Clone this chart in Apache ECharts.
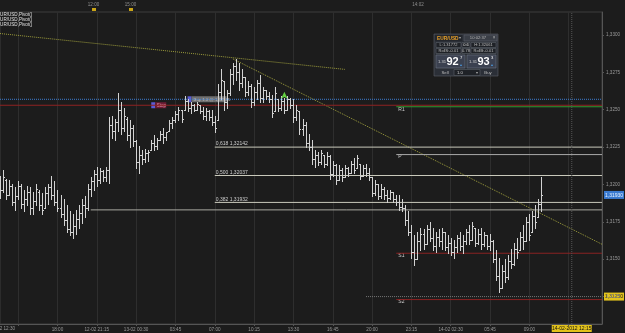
<!DOCTYPE html>
<html>
<head>
<meta charset="utf-8">
<script src="https://cdn.jsdelivr.net/npm/echarts@6/dist/echarts.min.js"></script>
<style>
  html, body { margin: 0; padding: 0; background: #1c1c1c; }
  #c { width: 625px; height: 333px; }
</style>
</head>
<body>
<div id="c"></div>
<script>
// EUR/USD 15 min bars, 12-02 .. 14-02-2012 : [open, close, low, high]
const bars = [
  [1.3200,1.3196,1.3191,1.3206],[1.3196,1.3205,1.3195,1.3210],[1.3203,1.3193,1.3190,1.3204],[1.3193,1.3199,1.3193,1.3203],
  [1.3199,1.3188,1.3186,1.3200],[1.3188,1.3192,1.3183,1.3198],[1.3192,1.3199,1.3190,1.3202],[1.3199,1.3187,1.3184,1.3200],
  [1.3187,1.3190,1.3182,1.3196],[1.3190,1.3195,1.3186,1.3199],[1.3195,1.3184,1.3180,1.3198],[1.3184,1.3189,1.3180,1.3195],
  [1.3189,1.3197,1.3186,1.3200],[1.3195,1.3186,1.3183,1.3196],[1.3186,1.3183,1.3180,1.3194],[1.3184,1.3194,1.3184,1.3198],
  [1.3194,1.3198,1.3187,1.3200],[1.3198,1.3193,1.3190,1.3206],[1.3193,1.3188,1.3186,1.3202],[1.3188,1.3184,1.3182,1.3196],
  [1.3184,1.3180,1.3178,1.3193],[1.3180,1.3176,1.3173,1.3190],[1.3176,1.3170,1.3168,1.3186],[1.3170,1.3168,1.3166,1.3182],
  [1.3168,1.3172,1.3164,1.3180],[1.3172,1.3177,1.3167,1.3183],[1.3177,1.3181,1.3171,1.3186],[1.3181,1.3186,1.3174,1.3190],
  [1.3186,1.3184,1.3178,1.3192],[1.3184,1.3197,1.3183,1.3200],[1.3197,1.3202,1.3192,1.3205],[1.3202,1.3207,1.3196,1.3210],
  [1.3207,1.3203,1.3199,1.3212],[1.3203,1.3209,1.3201,1.3211],[1.3209,1.3205,1.3202,1.3210],[1.3205,1.3210,1.3202,1.3212],
  [1.3210,1.3240,1.3201,1.3245],[1.3240,1.3236,1.3231,1.3246],[1.3236,1.3242,1.3230,1.3244],[1.3242,1.3250,1.3236,1.3261],
  [1.3250,1.3238,1.3234,1.3255],[1.3238,1.3246,1.3236,1.3251],[1.3244,1.3233,1.3230,1.3245],[1.3233,1.3238,1.3225,1.3243],
  [1.3238,1.3229,1.3226,1.3240],[1.3229,1.3215,1.3211,1.3230],[1.3215,1.3220,1.3208,1.3226],[1.3220,1.3217,1.3214,1.3223],
  [1.3217,1.3221,1.3215,1.3224],[1.3221,1.3222,1.3216,1.3223],[1.3223,1.3228,1.3223,1.3230],[1.3228,1.3226,1.3223,1.3233],
  [1.3226,1.3230,1.3224,1.3231],[1.3230,1.3234,1.3230,1.3236],[1.3234,1.3232,1.3228,1.3238],[1.3232,1.3235,1.3230,1.3235],
  [1.3236,1.3241,1.3236,1.3243],[1.3241,1.3243,1.3238,1.3245],[1.3243,1.3247,1.3242,1.3249],[1.3247,1.3250,1.3243,1.3252],
  [1.3250,1.3244,1.3242,1.3250],[1.3250,1.3256,1.3250,1.3259],[1.3256,1.3251,1.3249,1.3257],[1.3251,1.3253,1.3248,1.3255],
  [1.3253,1.3250,1.3249,1.3254],[1.3250,1.3254,1.3250,1.3255],[1.3253,1.3249,1.3248,1.3253],[1.3249,1.3246,1.3244,1.3252],
  [1.3246,1.3249,1.3243,1.3251],[1.3249,1.3245,1.3243,1.3250],[1.3245,1.3242,1.3240,1.3250],[1.3242,1.3238,1.3235,1.3246],
  [1.3243,1.3262,1.3243,1.3267],[1.3262,1.3270,1.3257,1.3277],[1.3269,1.3255,1.3250,1.3269],[1.3255,1.3261,1.3251,1.3263],
  [1.3261,1.3274,1.3260,1.3277],[1.3274,1.3279,1.3267,1.3281],[1.3279,1.3275,1.3270,1.3284],[1.3275,1.3268,1.3263,1.3281],
  [1.3268,1.3272,1.3265,1.3277],[1.3272,1.3262,1.3259,1.3272],[1.3262,1.3266,1.3260,1.3269],[1.3266,1.3255,1.3252,1.3267],
  [1.3255,1.3262,1.3253,1.3265],[1.3262,1.3268,1.3257,1.3270],[1.3268,1.3258,1.3255,1.3273],[1.3258,1.3263,1.3255,1.3265],
  [1.3263,1.3259,1.3257,1.3263],[1.3259,1.3257,1.3255,1.3262],[1.3257,1.3248,1.3245,1.3260],[1.3249,1.3261,1.3249,1.3265],
  [1.3257,1.3251,1.3249,1.3257],[1.3251,1.3256,1.3250,1.3259],[1.3256,1.3250,1.3248,1.3258],[1.3250,1.3257,1.3250,1.3259],
  [1.3257,1.3253,1.3251,1.3258],[1.3253,1.3245,1.3242,1.3257],[1.3245,1.3250,1.3243,1.3253],[1.3249,1.3237,1.3234,1.3249],
  [1.3237,1.3240,1.3233,1.3244],[1.3240,1.3228,1.3225,1.3242],[1.3228,1.3225,1.3223,1.3234],[1.3225,1.3217,1.3214,1.3230],
  [1.3217,1.3220,1.3212,1.3223],[1.3220,1.3215,1.3213,1.3222],[1.3215,1.3221,1.3214,1.3223],[1.3220,1.3214,1.3212,1.3220],
  [1.3214,1.3219,1.3213,1.3222],[1.3219,1.3207,1.3204,1.3220],[1.3207,1.3213,1.3206,1.3216],[1.3213,1.3203,1.3200,1.3214],
  [1.3203,1.3210,1.3203,1.3213],[1.3210,1.3205,1.3202,1.3211],[1.3205,1.3211,1.3205,1.3213],[1.3211,1.3208,1.3206,1.3212],
  [1.3208,1.3214,1.3208,1.3216],[1.3214,1.3210,1.3208,1.3218],[1.3211,1.3218,1.3211,1.3220],[1.3214,1.3206,1.3204,1.3214],
  [1.3206,1.3211,1.3206,1.3213],[1.3211,1.3208,1.3206,1.3214],[1.3208,1.3205,1.3203,1.3211],[1.3205,1.3194,1.3192,1.3205],
  [1.3194,1.3200,1.3193,1.3203],[1.3200,1.3192,1.3190,1.3200],[1.3192,1.3197,1.3191,1.3200],[1.3197,1.3193,1.3190,1.3198],
  [1.3193,1.3191,1.3188,1.3196],[1.3191,1.3195,1.3190,1.3196],[1.3195,1.3190,1.3188,1.3195],[1.3190,1.3188,1.3186,1.3193],
  [1.3188,1.3185,1.3183,1.3193],[1.3185,1.3184,1.3182,1.3190],[1.3184,1.3176,1.3173,1.3186],[1.3176,1.3168,1.3166,1.3182],
  [1.3168,1.3155,1.3151,1.3173],[1.3155,1.3150,1.3146,1.3166],[1.3150,1.3162,1.3150,1.3168],[1.3162,1.3167,1.3156,1.3171],
  [1.3167,1.3160,1.3157,1.3170],[1.3160,1.3170,1.3160,1.3173],[1.3170,1.3164,1.3162,1.3175],[1.3164,1.3159,1.3156,1.3171],
  [1.3159,1.3165,1.3155,1.3168],[1.3165,1.3162,1.3159,1.3170],[1.3162,1.3168,1.3157,1.3171],[1.3168,1.3158,1.3156,1.3168],
  [1.3158,1.3161,1.3154,1.3166],[1.3161,1.3155,1.3153,1.3164],[1.3155,1.3158,1.3151,1.3163],[1.3158,1.3164,1.3155,1.3166],
  [1.3164,1.3159,1.3156,1.3168],[1.3159,1.3162,1.3154,1.3166],[1.3162,1.3168,1.3160,1.3170],[1.3168,1.3163,1.3160,1.3173],
  [1.3163,1.3172,1.3163,1.3175],[1.3171,1.3161,1.3159,1.3171],[1.3161,1.3167,1.3160,1.3170],[1.3167,1.3160,1.3157,1.3171],
  [1.3160,1.3166,1.3159,1.3168],[1.3166,1.3159,1.3157,1.3166],[1.3159,1.3162,1.3156,1.3167],[1.3162,1.3150,1.3148,1.3163],
  [1.3150,1.3139,1.3136,1.3156],[1.3139,1.3131,1.3128,1.3151],[1.3131,1.3142,1.3131,1.3146],[1.3142,1.3138,1.3135,1.3150],
  [1.3138,1.3149,1.3137,1.3153],[1.3149,1.3147,1.3144,1.3157],[1.3147,1.3157,1.3146,1.3161],[1.3157,1.3155,1.3151,1.3164],
  [1.3156,1.3165,1.3156,1.3168],[1.3165,1.3162,1.3157,1.3173],[1.3162,1.3175,1.3162,1.3178],[1.3175,1.3166,1.3163,1.3180],
  [1.3168,1.3179,1.3168,1.3182],[1.3179,1.3175,1.3171,1.3186],[1.3178,1.3187,1.3178,1.3190],[1.3187,1.3193,1.3182,1.3205]
];

// time axis (one slot per 15 min bar, the right part is empty future space)
const xCount = 200;
const xTickLabels = ['18:00', '12-02 21:15', '13-02 00:30', '03:45', '07:00', '10:15', '13:30',
                     '16:45', '20:00', '23:15', '14-02 02:30', '05:45', '09:00'];
const xTickFirst = 19;
const xTickStep = 13;
const xStartLabel = '12-02 12:30';
const nowIndex = 189;
const nowLabel = '14-02-2012 12:15';

// price axis
const yMin = 1.310666;
const yMax = 1.331539;
const yTicks = [1.3125, 1.3150, 1.3175, 1.3200, 1.3225, 1.3250, 1.3275, 1.3300];

// pivot levels (drawn from the R1 label onwards)
const pivotNames = ['R1', 'P', 'S1', 'S2'];
const pivotValues = [1.3252, 1.3220, 1.3154, 1.3123];
const pivotStart = 131;

// fibonacci retracement
const fibLabels = ['0,618 1,32142', '0,500 1,32037', '0,382 1,31932'];
const fibValues = [1.3225, 1.3206, 1.3188];
const fibStart = 71;

// orders and other levels
const buyOrder = 1.3257;
const stopOrder = 1.3253;
const stopIndex = 50;
const buyIndex = 62;
const entryLevel = 1.3183;
const entryStart = 30;
const alertLevel = 1.3125;
const alertStart = 121;
const signalIndex = 94;
const signalPrice = 1.3262;

// trend lines [index, price]
const trendUpper = [[0, 1.3301], [114, 1.3277]];
const trendDown = [[77, 1.3284], [199, 1.3160]];

const FONT = '"Liberation Sans", Arial, sans-serif';
const BAR = '#d2d2d2';
const fmt = (v, d) => v.toFixed(d).replace('.', ',');
const last = xCount - 1;

const xCats = Array.from({ length: xCount }, (_, i) => {
  const k = (i - xTickFirst) / xTickStep;
  return Number.isInteger(k) && k >= 0 && k < xTickLabels.length ? xTickLabels[k] : '';
});
const isGrid = (i) => (i - xTickFirst) % xTickStep === 0;

function renderBar(params, api) {
  const i = api.value(0);
  const x = Math.round(api.coord([i, yMin])[0]) + 0.5;
  const py = (v) => Math.round(api.coord([i, v])[1]) + 0.5;
  const yo = py(api.value(1)), yc = py(api.value(2)), yl = py(api.value(3)), yh = py(api.value(4));
  const st = { stroke: BAR, lineWidth: 1 };
  return {
    type: 'group',
    children: [
      { type: 'line', shape: { x1: x, y1: yh - 0.5, x2: x, y2: yl + 0.5 }, style: st },
      { type: 'line', shape: { x1: x - 1.5, y1: yo, x2: x, y2: yo }, style: st },
      { type: 'line', shape: { x1: x, y1: yc, x2: x + 1.5, y2: yc }, style: st }
    ]
  };
}

// every level is its own two-point line series
const lineSeries = (data, color, type) => ({
  type: 'line', data, symbol: 'none', silent: true, z: 2,
  lineStyle: { color, type: type || 'solid', width: 1 }
});
const hLine = (i0, v, color, type) => lineSeries([[i0, v], [last, v]], color, type);

const pivotColors = ['#2e9a2e', '#aaaaaa', '#8a2222', '#8a2222'];
const series = [
  lineSeries(trendUpper, '#9c9c3c', 'dotted'),
  lineSeries(trendDown, '#9c9c3c', 'dotted'),
  hLine(0, buyOrder, '#3d7fd6', 'dotted'),
  hLine(0, stopOrder, '#8e2222'),
  ...pivotValues.map((v, k) => hLine(pivotStart, v, pivotColors[k])),
  ...fibValues.map((v) => hLine(fibStart, v, '#c9c9bb')),
  hLine(entryStart, entryLevel, '#a8a8a0'),
  hLine(alertStart, alertLevel, '#777777', 'dotted'),
  lineSeries([[nowIndex, yMin], [nowIndex, yMax]], '#555555', 'dotted'),
  {
    type: 'custom',
    renderItem: renderBar,
    encode: { x: 0, y: [1, 2, 3, 4] },
    data: bars.map((b, i) => [i, b[0], b[1], b[2], b[3]]),
    z: 3,
    markPoint: {
      silent: true,
      symbol: 'arrow',
      symbolSize: [5, 7],
      itemStyle: { color: '#62d040' },
      label: { show: false },
      data: [{ coord: [signalIndex, signalPrice] }]
    }
  }
];

const chart = echarts.init(document.getElementById('c'));
chart.setOption({
  animation: false,
  backgroundColor: '#1c1c1c',
  grid: { left: 0, right: 23, top: 12, bottom: 9, show: true, borderColor: '#3d3d3d', borderWidth: 1 },
  xAxis: {
    type: 'category',
    data: xCats,
    boundaryGap: false,
    axisLine: { lineStyle: { color: '#555' } },
    axisTick: { interval: (i) => isGrid(i), length: 2, lineStyle: { color: '#555' } },
    axisLabel: { interval: (i, v) => v !== '', fontSize: 4.6, fontFamily: FONT, color: '#9a9a9a', margin: 3 },
    splitLine: { show: true, interval: (i) => isGrid(i), lineStyle: { color: '#2e2e2e' } }
  },
  yAxis: {
    type: 'value',
    position: 'right',
    min: yMin,
    max: yMax,
    axisLine: { show: true, lineStyle: { color: '#555' } },
    axisTick: { show: true, customValues: yTicks, length: 2, lineStyle: { color: '#555' } },
    axisLabel: { customValues: yTicks, fontSize: 4.6, fontFamily: FONT, color: '#9a9a9a', margin: 4,
                 formatter: (v) => fmt(v, 4) },
    splitLine: { show: false }
  },
  series
});

// overlay: level labels, price tags, order tags, top strip, quote panel
const px = (i, v) => chart.convertToPixel({ gridIndex: 0 }, [i, v]);
const rect = (x, y, w, h, fill, stroke) => ({
  type: 'rect', shape: { x, y, width: w, height: h },
  style: { fill, stroke: stroke || null, lineWidth: stroke ? 0.6 : 0 }
});
const txt = (x, y, text, size, color, align, weight) => ({
  type: 'text', x, y,
  style: { text, fontSize: size, fontFamily: FONT, fill: color, align: align || 'left',
           verticalAlign: 'middle', fontWeight: weight || 'normal' }
});
const g = [];

pivotNames.forEach((n, k) => {
  const p = px(pivotStart, pivotValues[k]);
  g.push(txt(p[0] + 2, p[1] + 2.5, n, 5, '#cfcfcf'));
});
fibLabels.forEach((n, k) => {
  const p = px(fibStart, fibValues[k]);
  g.push(txt(p[0] + 1, p[1] - 3, n, 5, '#cfcfcf'));
});

// right-hand price tags
const lastClose = bars[bars.length - 1][1];
const tag = (v, fill, color) => {
  const y = px(last, v)[1];
  g.push(rect(604, y - 4, 20, 8, fill));
  g.push(txt(614, y + 0.3, fmt(v, 5), 5, color, 'center'));
};
tag(lastClose, '#3a7ad0', '#e8f2ff');
tag(alertLevel, '#e2c21c', '#111');
// current time tag on the time axis
const nx = px(nowIndex, yMin)[0];
g.push(rect(nx - 20, 325, 40, 7, '#e2c21c'));
g.push(txt(nx, 328.7, nowLabel, 5, '#111', 'center'));

// order tags
const s = px(stopIndex, stopOrder);
const b = px(buyIndex, buyOrder);
g.push(rect(s[0], s[1] - 3, 4, 6, '#5b5bd6'));
g.push(rect(s[0] + 4, s[1] - 3, 11, 6, '#6e1c34'));
g.push(txt(s[0] + 5.5, s[1] + 0.3, 'Stop', 4.5, '#e29ab0'));
g.push(rect(b[0], b[1] - 3, 4, 6, '#5b5bd6'));
g.push(rect(b[0] + 4, b[1] - 3, 35, 6, '#6f6f6f'));
g.push(txt(b[0] + 6, b[1] + 0.3, 'Buy 1.0 @ 1,32565', 4.3, '#bdbdbd'));

// top strip
g.push(txt(93.5, 4.5, '12:00', 4.5, '#8f8f8f', 'center'));
g.push(rect(92, 8, 4, 3, '#c9a417'));
g.push(txt(130.5, 4.5, '15:00', 4.5, '#8f8f8f', 'center'));
g.push(rect(129, 8, 4, 3, '#c9a417'));
g.push(txt(418, 4.5, '14:02', 4.5, '#8f8f8f', 'center'));
g.push(txt(-3, 14.5, 'EUR/USD,Pivot()', 4.6, '#e0e0e0'));
g.push(txt(-3, 19.5, 'EUR/USD,Pivot()', 4.6, '#e0e0e0'));
g.push(txt(-3, 24.5, 'EUR/USD,Pivot()', 4.6, '#e0e0e0'));
g.push(txt(15, 328.5, xStartLabel, 4.6, '#9a9a9a', 'right'));

// quote panel
const panel = [
  rect(0, 0, 64, 42, '#2b2f37', '#5a5f68'),
  rect(1, 1, 27, 6, '#24272d'),
  txt(3, 4.2, 'EUR/USD', 4.8, '#e7a028', 'left', 'bold'),
  txt(25.5, 4.2, '▾', 4, '#aaa', 'center'),
  rect(30, 1, 33, 6, '#3a3e46', '#5a5f68'),
  txt(44, 4.2, '10:02:37', 4.2, '#b5b5b5', 'center'),
  txt(60, 4.2, '×', 4.5, '#b5b5b5', 'center'),
  rect(2, 8.5, 25, 5, '#1f2227', '#5a5f68'),
  txt(14.5, 11.2, 'L:1.31772', 4, '#bdbdbd', 'center'),
  rect(28, 8.5, 8, 5, '#1f2227', '#5a5f68'),
  txt(32, 11.2, '0.6', 4, '#e0e0e0', 'center'),
  rect(37, 8.5, 25, 5, '#1f2227', '#5a5f68'),
  txt(49.5, 11.2, 'H:1.32061', 4, '#bdbdbd', 'center'),
  rect(2, 14.5, 25, 5, '#1f2227', '#5a5f68'),
  txt(14.5, 17.2, 'RollS:-0.01', 4, '#bdbdbd', 'center'),
  rect(28, 14.5, 8, 5, '#1f2227', '#5a5f68'),
  txt(32, 17.2, '0.78', 4, '#bdbdbd', 'center'),
  rect(37, 14.5, 25, 5, '#1f2227', '#5a5f68'),
  txt(49.5, 17.2, 'RollB:-0.01', 4, '#bdbdbd', 'center'),
  rect(2, 21, 29, 13, '#3b4150', '#6d7380'),
  txt(4, 28, '1.31', 4.2, '#d0d0d0'),
  txt(12.5, 28, '92', 11, '#ffffff', 'left', 'bold'),
  txt(26, 23.8, '7', 4.2, '#ffffff'),
  txt(27, 30.5, '▴', 4, '#4a9ae0', 'center'),
  rect(33, 21, 29, 13, '#3b4150', '#6d7380'),
  txt(35, 28, '1.31', 4.2, '#d0d0d0'),
  txt(43.5, 28, '93', 11, '#ffffff', 'left', 'bold'),
  txt(57, 23.8, '3', 4.2, '#ffffff'),
  txt(58, 30.5, '▴', 4, '#4a9ae0', 'center'),
  txt(11, 38.5, 'Sell', 4.3, '#bdbdbd', 'center'),
  rect(20, 35.5, 26, 6, '#1f2227', '#5a5f68'),
  txt(23, 38.6, '1.0', 4.2, '#d0d0d0'),
  txt(42.5, 38.6, '▾', 4, '#aaa', 'center'),
  txt(54, 38.5, 'Buy', 4.3, '#bdbdbd', 'center')
];
g.push({ type: 'group', x: 434, y: 34, children: panel });

chart.setOption({ graphic: [{ type: 'group', z: 100, children: g }] });
</script>
</body>
</html>
